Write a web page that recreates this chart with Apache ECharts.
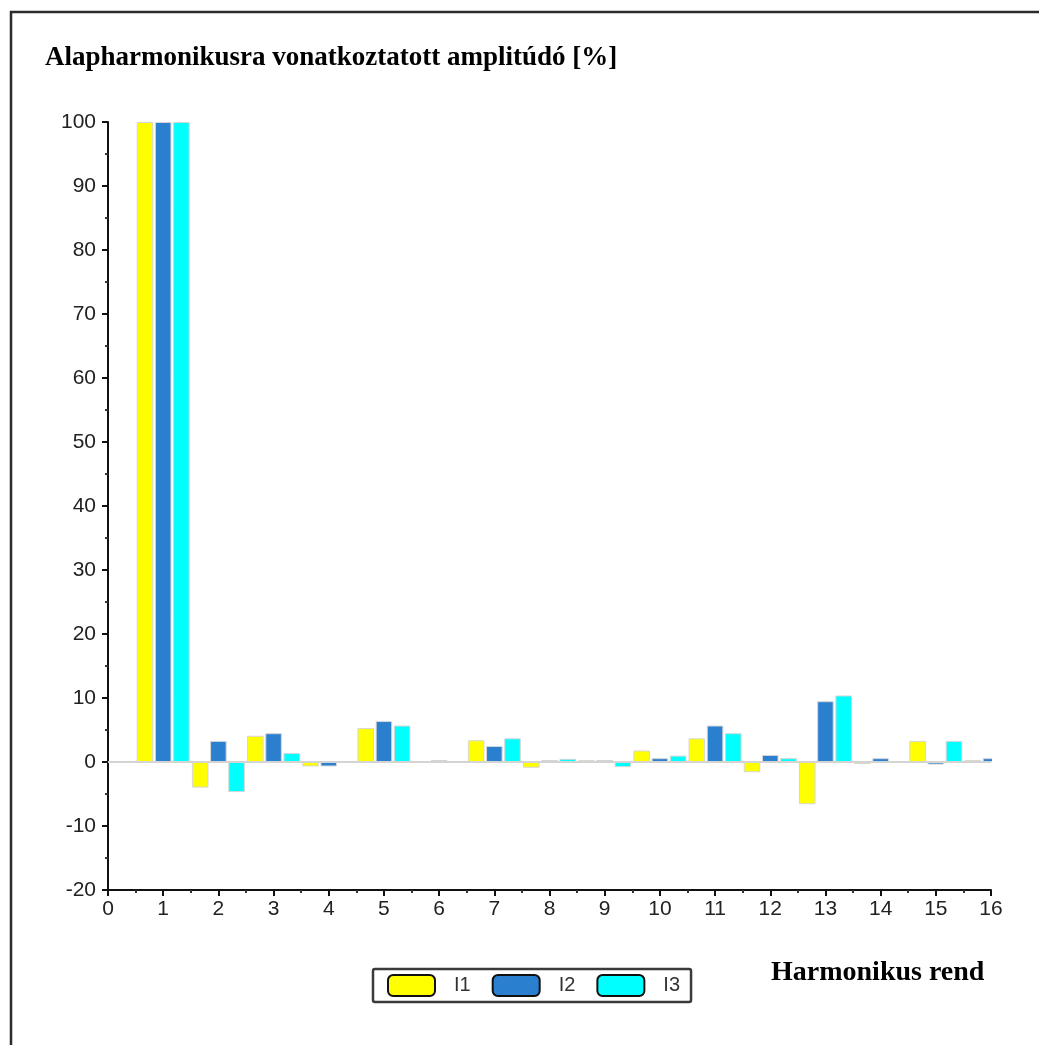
<!DOCTYPE html>
<html>
<head>
<meta charset="utf-8">
<script src="https://cdn.jsdelivr.net/npm/echarts@6/dist/echarts.min.js"></script>
<style>
  html, body { margin: 0; padding: 0; background: #fff; }
  #chart { width: 1039px; height: 1045px; }
</style>
</head>
<body>
<div id="chart"></div>
<script>
// Harmonic orders (x positions of the bar groups)
const harmonics = [1, 2, 3, 4, 5, 6, 7, 8, 9, 10, 11, 12, 13, 14, 15, 16];

// Amplitude relative to the fundamental, in percent, per phase current
const I1 = [100, -4.0, 4.1, -0.7, 5.3, null, 3.4, -0.9, 0.3, 1.8, 3.7, -1.6, -6.6, -0.3, 3.3, 0.3];
const I2 = [100, 3.3, 4.5, -0.7, 6.4, 0.3, 2.5, 0.3, 0.3, 0.6, 5.7, 1.1, 9.5, 0.6, -0.4, 0.6];
const I3 = [100, -4.7, 1.4, null, 5.7, null, 3.7, 0.5, -0.8, 1.0, 4.5, 0.6, 10.4, 0.1, 3.3, null];

const seriesNames = ['I1', 'I2', 'I3'];
const seriesColors = ['#ffff00', '#2a7fcf', '#00ffff'];

const titleText = 'Alapharmonikusra vonatkoztatott amplitúdó [%]';
const xAxisTitle = 'Harmonikus rend';

const pairs = vals => harmonics.map((h, i) => [h, vals[i]]);

const labelFont = {
  fontFamily: 'Liberation Sans, Arial, sans-serif',
  fontSize: 21,
  color: '#222'
};

const GRID = { left: 108, right: 48, top: 122, bottom: 155 };
const W = 1039, H = 1045;

const chart = echarts.init(document.getElementById('chart'), null, { renderer: 'canvas' });

const series = [I1, I2, I3].map((vals, k) => ({
  name: seriesNames[k],
  type: 'bar',
  data: pairs(vals),
  barWidth: '30%',
  barGap: '10%',
  clip: true,
  itemStyle: {
    color: seriesColors[k],
    borderColor: '#d6d6d6',
    borderWidth: 1
  },
  emphasis: { disabled: true }
}));

// Light reference line at zero amplitude
series[0].markLine = {
  silent: true,
  symbol: 'none',
  label: { show: false },
  lineStyle: { color: '#d4d4d4', width: 2, type: 'solid' },
  data: [{ yAxis: 0 }]
};

chart.setOption({
  animation: false,
  backgroundColor: '#fff',
  title: [
    {
      text: titleText,
      left: 45,
      top: 45,
      padding: 0,
      textStyle: {
        fontFamily: 'Liberation Serif, Times New Roman, serif',
        fontWeight: 'bold',
        fontSize: 27,
        color: '#000'
      }
    },
    {
      text: xAxisTitle,
      left: 771,
      top: 959,
      padding: 0,
      textStyle: {
        fontFamily: 'Liberation Serif, Times New Roman, serif',
        fontWeight: 'bold',
        fontSize: 28,
        color: '#000'
      }
    }
  ],
  legend: {
    data: seriesNames,
    left: 373,
    top: 969,
    orient: 'horizontal',
    icon: 'roundRect',
    itemWidth: 47,
    itemHeight: 21,
    itemGap: 21,
    padding: [5, 11, 5, 14],
    backgroundColor: '#fff',
    borderColor: '#3a3a3a',
    borderWidth: 2.5,
    borderRadius: 2,
    itemStyle: { borderColor: '#111', borderWidth: 2 },
    textStyle: Object.assign({}, labelFont, { fontSize: 20, color: '#333', padding: [0, 0, 0, 14] }),
    selectedMode: false
  },
  grid: Object.assign({ outerBoundsMode: 'none' }, GRID),
  xAxis: {
    type: 'value',
    min: 0,
    max: 16,
    interval: 1,
    axisLine: { onZero: false, lineStyle: { color: '#111', width: 2 } },
    axisTick: { show: true, length: 6, lineStyle: { color: '#111', width: 2 } },
    minorTick: { show: true, splitNumber: 2, length: 3, lineStyle: { color: '#333', width: 2 } },
    splitLine: { show: false },
    minorSplitLine: { show: false },
    axisLabel: Object.assign({ margin: 9 }, labelFont)
  },
  yAxis: {
    type: 'value',
    min: -20,
    max: 100,
    interval: 10,
    axisLine: { show: true, lineStyle: { color: '#111', width: 2 } },
    axisTick: { show: true, length: 6, lineStyle: { color: '#111', width: 2 } },
    minorTick: { show: true, splitNumber: 2, length: 3, lineStyle: { color: '#333', width: 2 } },
    splitLine: { show: false },
    minorSplitLine: { show: false },
    axisLabel: Object.assign({ margin: 12 }, labelFont)
  },
  graphic: [
    {
      // mask anything drawn past the right end of the plot area
      type: 'rect',
      silent: true,
      z: 100,
      shape: { x: W - GRID.right + 1, y: GRID.top, width: 44, height: H - GRID.top - GRID.bottom - 6 },
      style: { fill: '#fff' }
    },
    {
      // outer frame
      type: 'rect',
      silent: true,
      z: 101,
      shape: { x: 11, y: 12, width: 1100, height: 1100 },
      style: { fill: 'none', stroke: '#2b2b2b', lineWidth: 2.5 }
    }
  ],
  series: series
});
</script>
</body>
</html>
